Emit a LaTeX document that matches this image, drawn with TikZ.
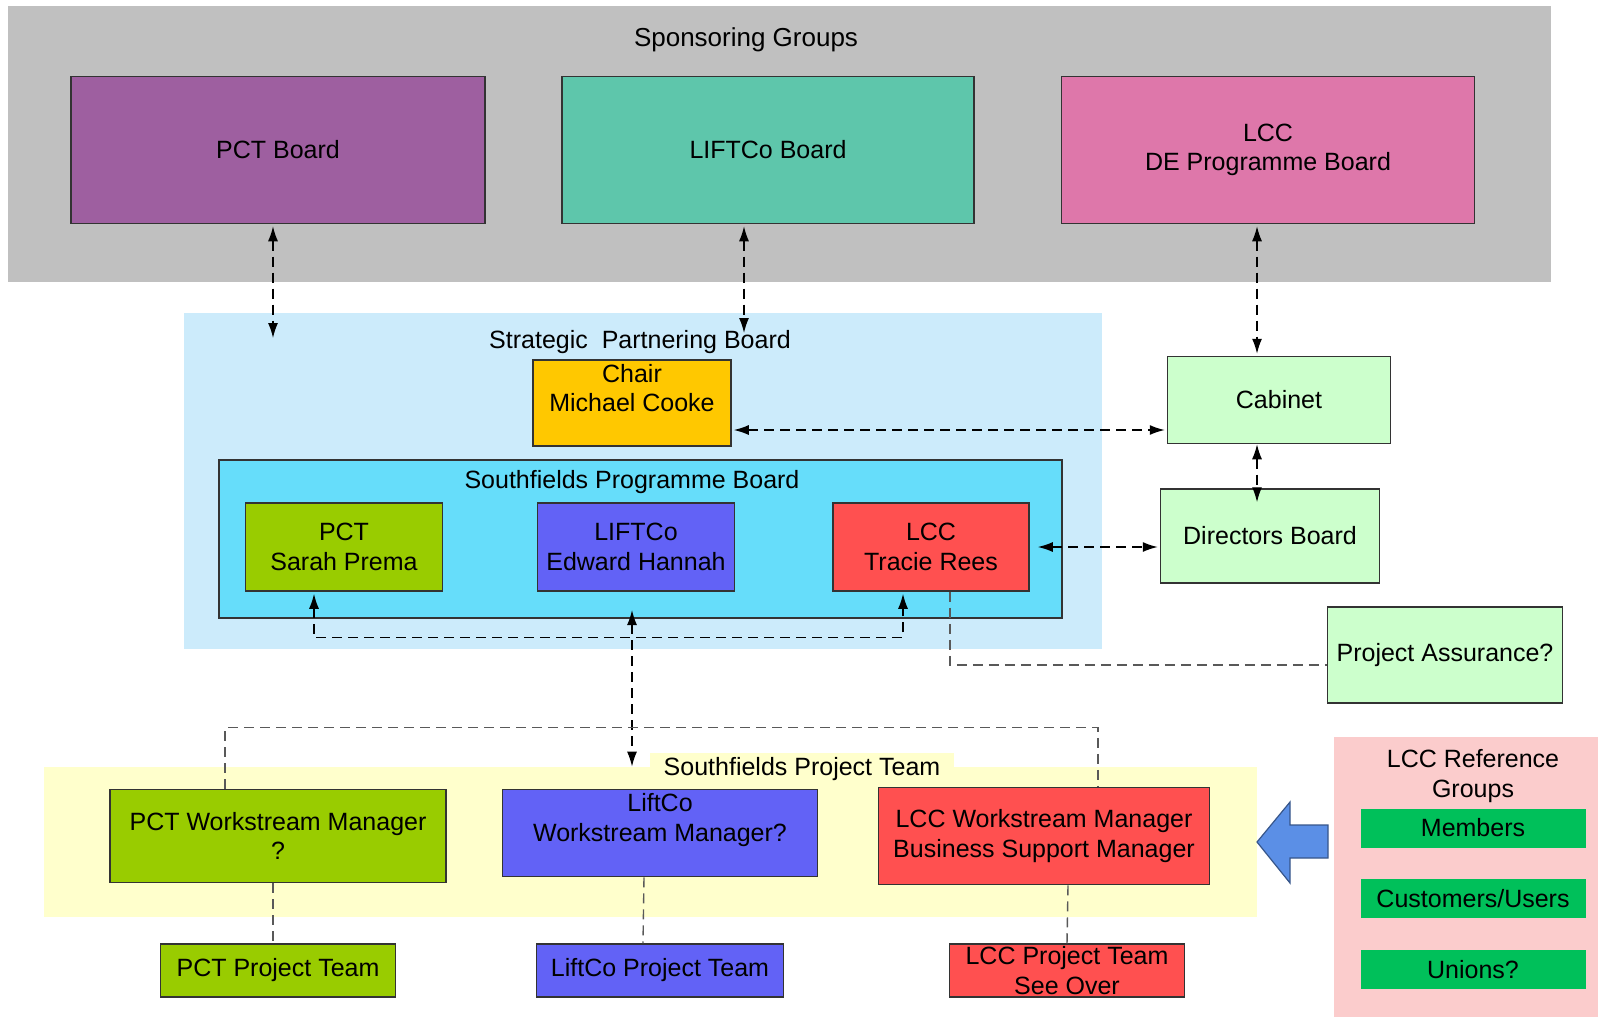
\documentclass[tikz,border=0pt]{standalone}
\usepackage{fontspec}
\setmainfont{Liberation Sans}
\usetikzlibrary{positioning,arrows.meta}

\definecolor{sponsgrey}{HTML}{C0C0C0}
\definecolor{pctpurple}{HTML}{9E5FA0}
\definecolor{liftteal}{HTML}{5EC6AB}
\definecolor{lccpink}{HTML}{DE77AA}
\definecolor{spbblue}{HTML}{CCEBFB}
\definecolor{chairgold}{HTML}{FFC800}
\definecolor{sfpbblue}{HTML}{66DDFA}
\definecolor{pctgreen}{HTML}{99CC00}
\definecolor{liftblue}{HTML}{6262F6}
\definecolor{lccred}{HTML}{FF5050}
\definecolor{palegreen}{HTML}{CCFFCC}
\definecolor{paleyellow}{HTML}{FFFFCC}
\definecolor{palepink}{HTML}{FBCCCC}
\definecolor{refgreen}{HTML}{00C05A}
\definecolor{arrowblue}{HTML}{5B8FE6}

\begin{document}
\begin{tikzpicture}[x=0.5pt, y=-0.5pt, font=\fontsize{12.5}{14.8}\selectfont]

\tikzstyle{panel}=[rectangle, inner sep=0pt]
\tikzstyle{boks}=[rectangle, draw=black!80, line width=0.75pt, inner sep=0pt, align=center]
\tikzstyle{pil}=[{Latex[length=7.5pt,width=5pt]}-{Latex[length=7.5pt,width=5pt]}, line width=0.7pt, dash pattern=on 5pt off 3pt, shorten >=1pt, shorten <=1pt]
\tikzstyle{strek}=[line width=0.7pt, draw=black!65, dash pattern=on 5pt off 3pt]

\useasboundingbox (0,0) rectangle (1598,1017);

% background groups
\node[panel, fill=sponsgrey, minimum width=771.5pt, minimum height=138pt] (sponsors) at (779.5,144) {};
\node (sponslbl) at (746,40) {\fontsize{13}{15}\selectfont Sponsoring Groups};

\node[panel, fill=spbblue, minimum width=459pt, minimum height=168pt] (spb) at (643,481) {};
\node (spblbl) at (640,342) {Strategic~ Partnering Board};

\node[panel, fill=sfpbblue, draw=black!80, line width=0.75pt, minimum width=421.5pt, minimum height=79pt] (sfpb) at (640.5,539) {};
\node (sfpblbl) at (632,482) {Southfields Programme Board};

\node[panel, fill=paleyellow, minimum width=606.5pt, minimum height=75pt] (sptpanel) at (650.5,842) {};
\node[fill=paleyellow, inner xsep=7pt, inner ysep=2pt] (sptlbl) at (802,769) {Southfields Project Team};

\node[panel, fill=palepink, minimum width=132pt, minimum height=140pt] (refpanel) at (1466,877) {};
\node[align=center] (reflbl) at (1473,776) {LCC Reference\\Groups};

% sponsoring boards
\node[boks, fill=pctpurple, minimum width=207pt, minimum height=73.5pt] (pctboard) at (278,150) {PCT Board};
\node[boks, fill=liftteal, minimum width=206pt, minimum height=73.5pt] (liftboard) at (768,150) {LIFTCo Board};
\node[boks, fill=lccpink, minimum width=206.5pt, minimum height=73.5pt] (lccboard) at (1268,150) {LCC\\DE Programme Board};

% partnering board
\node[boks, fill=chairgold, minimum width=99pt, minimum height=43pt] (chair) at (632,403) {};
\node[align=center] (chairtxt) at (632,388) {Chair\\Michael Cooke};

\node[boks, fill=pctgreen, minimum width=98.5pt, minimum height=44pt] (sarah) at (344,547) {PCT\\Sarah Prema};
\node[boks, fill=liftblue, minimum width=98.5pt, minimum height=44pt] (edward) at (636,547) {LIFTCo\\Edward Hannah};
\node[boks, fill=lccred, minimum width=98pt, minimum height=44pt] (tracie) at (931,547) {LCC\\Tracie Rees};

% council side
\node[boks, fill=palegreen, minimum width=111.5pt, minimum height=43.5pt] (cabinet) at (1279,400) {Cabinet};
\node[boks, fill=palegreen, minimum width=109.5pt, minimum height=47pt] (directors) at (1270,536) {Directors Board};
\node[boks, fill=palegreen, minimum width=117.5pt, minimum height=48pt] (assurance) at (1445,655) {Project Assurance?};

% project team
\node[boks, fill=pctgreen, minimum width=168pt, minimum height=46.5pt] (pctwm) at (278,836) {PCT Workstream Manager\\?};
\node[boks, fill=liftblue, minimum width=157.5pt, minimum height=43.5pt] (liftwm) at (660,833) {};
\node[align=center] (liftwmtxt) at (660,820) {LiftCo\\Workstream Manager?};
\node[boks, fill=lccred, minimum width=165.5pt, minimum height=48.5pt] (lccwm) at (1044,836) {LCC Workstream Manager\\Business Support Manager};

\node[boks, fill=pctgreen, minimum width=117.5pt, minimum height=26.5pt, below=30pt of pctwm] (pctpt) {PCT Project Team};
\node[boks, fill=liftblue, minimum width=123.5pt, minimum height=26.5pt, below=33pt of liftwm] (liftpt) {LiftCo Project Team};
\node[boks, fill=lccred, minimum width=117.5pt, minimum height=26.5pt, below=29pt of lccwm, xshift=11.5pt] (lccpt) {LCC Project Team\\See Over};

% reference groups
\node[panel, fill=refgreen, minimum width=112.5pt, minimum height=19.5pt] (members) at (1473,828) {Members};
\node[panel, fill=refgreen, minimum width=112.5pt, minimum height=19.5pt, below=15.5pt of members] (customers) {Customers/Users};
\node[panel, fill=refgreen, minimum width=112.5pt, minimum height=19.5pt, below=15.5pt of customers] (unions) {Unions?};

\draw[fill=arrowblue, draw=arrowblue!60!black, line width=0.6pt] (1328,825) -- (1290,825) -- (1290,802) -- (1257,842) -- (1290,883) -- (1290,858) -- (1328,858) -- cycle;

% connectors
\coordinate (pctend) at (273,340);
\coordinate (liftend) at (744,335);
\coordinate (cabtop) at ([xshift=-11pt]cabinet.north);
\coordinate (chairpt) at ([yshift=-13.5pt]chair.east);
\coordinate (midtop) at (632,608);

\draw[pil] (pctend |- pctboard.south) -- (pctend);
\draw[pil] (liftend |- liftboard.south) -- (liftend);
\draw[pil] (cabtop |- lccboard.south) -- (cabtop);
\draw[pil] (chairpt) -- (chairpt -| cabinet.west);
\draw[pil, shorten >=-7pt, shorten <=0pt] (cabtop |- cabinet.south) -- (cabtop |- directors.north);
\draw[pil, shorten <=4pt] (tracie.east) -- (tracie.east -| directors.west);
\draw[pil] ([xshift=-15pt]sarah.south) -- ++(0,46) -| ([xshift=-14pt]tracie.south);
\draw[pil, shorten >=0pt] (midtop) -- (midtop |- sptpanel.north);

\draw[strek] ([xshift=9.5pt]tracie.south) |- ([yshift=-5pt]assurance.west);
\draw[strek] ([xshift=-26.5pt]pctwm.north) -- ++(0,-61) -| ([xshift=27pt]lccwm.north);
\draw[strek] ([xshift=-2.5pt]pctwm.south) -- ([xshift=-2.5pt]pctpt.north);
\draw[strek] ([xshift=-8pt]liftwm.south) -- ([xshift=-8.5pt]liftpt.north);
\draw[strek] ([xshift=12pt]lccwm.south) -- (lccpt.north);

\end{tikzpicture}
\end{document}
